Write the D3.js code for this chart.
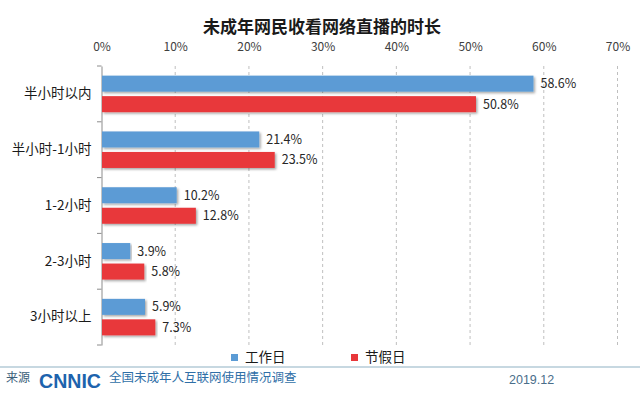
<!DOCTYPE html>
<html lang="zh">
<head>
<meta charset="UTF-8">
<title>未成年网民收看网络直播的时长</title>
<script src="https://d3js.org/d3.v7.min.js"></script>
<style>
  body { margin: 0; background: #fff; }
  svg { font-family: 'Noto Sans CJK SC', 'Microsoft YaHei', sans-serif; }
</style>
</head>
<body>
<div id="chart"></div>
<script>
// data
const categories = ["半小时以内", "半小时-1小时", "1-2小时", "2-3小时", "3小时以上"];
const workday = [58.6, 21.4, 10.2, 3.9, 5.9];
const holiday = [50.8, 23.5, 12.8, 5.8, 7.3];
const seriesNames = ["工作日", "节假日"];
const tickValues = [0, 10, 20, 30, 40, 50, 60, 70];

const width = 640, height = 394;
const colors = ["#5b9bd5", "#e8373a"];

const svg = d3.select("#chart").append("svg")
  .attr("width", width).attr("height", height);

// shadow for bars
const defs = svg.append("defs");
const f = defs.append("filter").attr("id", "shadow")
  .attr("x", "-5%").attr("y", "-20%").attr("width", "110%").attr("height", "160%");
f.append("feDropShadow").attr("dx", 1.5).attr("dy", 1.5).attr("stdDeviation", 1)
  .attr("flood-color", "#000").attr("flood-opacity", 0.35);

svg.append("rect").attr("width", width).attr("height", height).attr("fill", "#fff");

const x = d3.scaleLinear().domain([0, 70]).range([101.5, 617.5]);
const y = d3.scaleBand().domain(categories).range([66, 345]);

// title
svg.append("text").attr("x", 322).attr("y", 33).attr("text-anchor", "middle")
  .attr("font-size", 17).attr("font-weight", "bold").attr("fill", "#1a1a1a")
  .text("未成年网民收看网络直播的时长");

// gridlines
svg.append("g").selectAll("line").data(tickValues.slice(1)).join("line")
  .attr("x1", d => x(d)).attr("x2", d => x(d))
  .attr("y1", 66).attr("y2", 345)
  .attr("stroke", "#bfbfbf").attr("stroke-dasharray", "3,3");

// top axis labels
const xAxis = d3.axisTop(x).tickValues(tickValues).tickFormat(d => d + "%").tickSize(0).tickPadding(0);
const gx = svg.append("g").attr("transform", "translate(0,51)").call(xAxis);
gx.select(".domain").remove();
gx.selectAll("text").attr("font-size", 12).attr("fill", "#404040")
  .attr("font-family", "'Noto Sans CJK SC', sans-serif");

// left axis
const yAxis = d3.axisLeft(y).tickSize(0).tickPadding(10);
const gy = svg.append("g").attr("transform", "translate(101.5,0)").call(yAxis);
gy.select(".domain").attr("stroke", "#8c8c8c");
gy.selectAll("text").attr("font-size", 13.5).attr("fill", "#1a1a1a")
  .attr("font-family", "'Noto Sans CJK SC', sans-serif");
// separator ticks
svg.append("g").selectAll("line")
  .data(categories.map(c => y(c)).concat([y.range()[1]])).join("line")
  .attr("x1", 97).attr("x2", 101.5).attr("y1", d => d).attr("y2", d => d)
  .attr("stroke", "#8c8c8c");

// bars
const barH = 16, gap = 4.5;
const series = [workday, holiday];
series.forEach((vals, si) => {
  const g = svg.append("g");
  const yPos = (c) => y(c) + y.bandwidth() / 2 + (si === 0 ? -gap / 2 - barH : gap / 2);
  g.selectAll("rect").data(categories).join("rect")
    .attr("x", x(0) + 0.5)
    .attr("y", c => yPos(c))
    .attr("width", (c, i) => x(vals[i]) - x(0) - 0.5)
    .attr("height", barH)
    .attr("fill", colors[si])
    .attr("filter", "url(#shadow)");
  g.selectAll("text").data(categories).join("text")
    .attr("x", (c, i) => x(vals[i]) + 7)
    .attr("y", c => yPos(c) + barH / 2 + 4.5)
    .attr("font-size", 12.5).attr("fill", "#262626")
    .attr("font-family", "'Noto Sans CJK SC', sans-serif")
    .text((c, i) => vals[i].toFixed(1) + "%");
});

// legend
const legX = [231, 351];
seriesNames.forEach((n, i) => {
  svg.append("rect").attr("x", legX[i]).attr("y", 354).attr("width", 7).attr("height", 7)
    .attr("fill", colors[i]);
  svg.append("text").attr("x", legX[i] + 14).attr("y", 362)
    .attr("font-size", 13.5).attr("fill", "#1a1a1a").text(n);
});

// footer
svg.append("line").attr("x1", 0).attr("x2", 640).attr("y1", 367).attr("y2", 367)
  .attr("stroke", "#8fb1c4").attr("stroke-width", 1.2);
svg.append("text").attr("x", 6).attr("y", 382).attr("font-size", 12).attr("fill", "#3b5f7a").text("来源");
svg.append("text").attr("x", 39).attr("y", 388)
  .attr("font-family", "'Liberation Sans', Arial").attr("font-weight", "bold")
  .attr("font-size", 21).attr("fill", "#1d63ad")
  .attr("textLength", 62).attr("lengthAdjust", "spacingAndGlyphs")
  .text("CNNIC");
svg.append("text").attr("x", 109).attr("y", 382).attr("font-size", 12.5).attr("fill", "#2f6fa7")
  .text("全国未成年人互联网使用情况调查");
svg.append("text").attr("x", 509).attr("y", 384).attr("font-size", 12.5).attr("fill", "#4a6e8a")
  .attr("font-family", "'Liberation Sans', Arial").text("2019.12");
</script>
</body>
</html>
